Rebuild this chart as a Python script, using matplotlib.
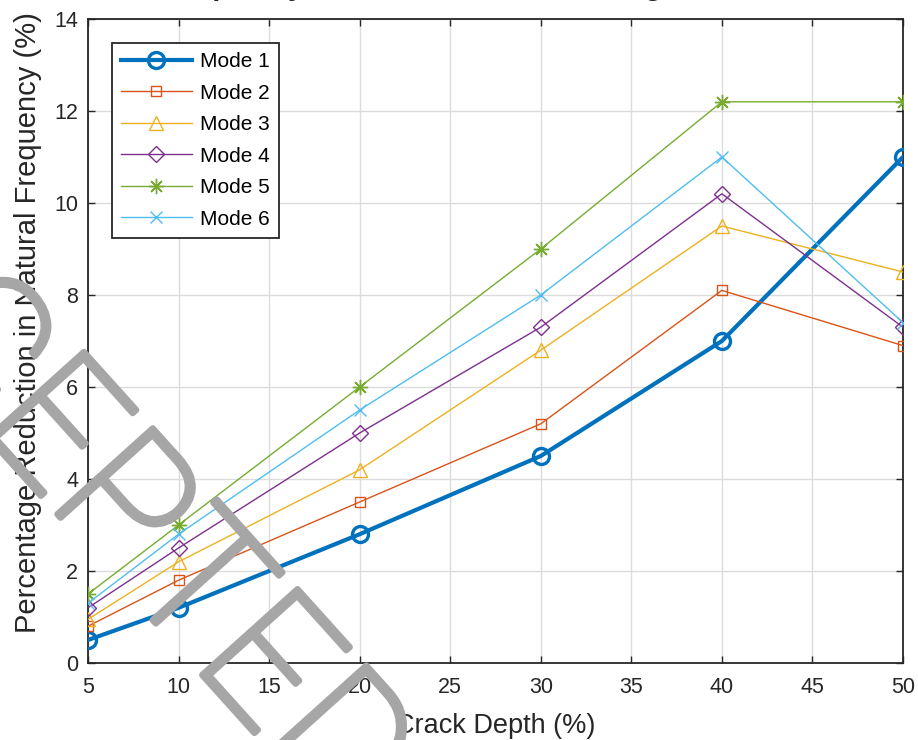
import matplotlib
matplotlib.use("Agg")
import matplotlib.pyplot as plt
import matplotlib.patheffects as pe

# -------- DATA ------------------------------------------------------
crack_depth = [5, 10, 20, 30, 40, 50]
mode1 = [0.5, 1.2, 2.8, 4.5, 7.0, 11.0]
mode2 = [0.8, 1.8, 3.5, 5.2, 8.1, 6.9]
mode3 = [0.95, 2.2, 4.2, 6.8, 9.5, 8.5]
mode4 = [1.2, 2.5, 5.0, 7.3, 10.2, 7.3]
mode5 = [1.5, 3.0, 6.0, 9.0, 12.2, 12.2]
mode6 = [1.3, 2.8, 5.5, 8.0, 11.0, 7.4]
mode_names = ["Mode 1", "Mode 2", "Mode 3", "Mode 4", "Mode 5", "Mode 6"]
x_ticks = [5, 10, 15, 20, 25, 30, 35, 40, 45, 50]
y_ticks = [0, 2, 4, 6, 8, 10, 12, 14]
# --------------------------------------------------------------------

W, H = 918, 740

plt.rcParams["font.family"] = ["Liberation Sans", "DejaVu Sans"]

fig = plt.figure(figsize=(W / 100, H / 100), dpi=100)
ax = fig.add_axes([88 / W, 1 - 663 / H, (903 - 88) / W, (663 - 19) / H])

styles = [
    dict(color="#0072BD", marker="o", lw=3.0, ms=11.5, mew=2.4),
    dict(color="#D95319", marker="s", lw=1.0, ms=7.5, mew=1.0),
    dict(color="#EDB120", marker="^", lw=1.0, ms=10, mew=1.0),
    dict(color="#7E2F8E", marker="D", lw=1.0, ms=8, mew=1.0),
    dict(color="#77AC30", marker=(8, 2, 0), lw=1.0, ms=11, mew=1.0),
    dict(color="#4DBEEE", marker="x", lw=1.0, ms=8, mew=1.0),
]
series = [mode1, mode2, mode3, mode4, mode5, mode6]

for name, vals, st in zip(mode_names, series, styles):
    ax.plot(crack_depth, vals, color=st["color"], marker=st["marker"],
            linewidth=st["lw"], markersize=st["ms"], markeredgewidth=st["mew"],
            markerfacecolor="none", label=name, zorder=3)

ax.set_xlim(5, 50)
ax.set_ylim(0, 14)
ax.set_xticks(x_ticks)
ax.set_yticks(y_ticks)
ax.grid(True, color="#dcdcdc", linewidth=1.0)
ax.set_axisbelow(True)
ax.tick_params(direction="in", length=5, width=1.0, top=True, right=True,
               labelsize=15.5, colors="#262626", pad=7)
ax.tick_params(axis="x", pad=10)
for sp in ax.spines.values():
    sp.set_color("#262626")
    sp.set_linewidth(1.3)

ax.set_xlabel("Crack Depth (%)", fontsize=19.5, color="#262626", labelpad=11)
ax.set_ylabel("Percentage Reduction in Natural Frequency (%)", fontsize=21,
              color="#262626")
ax.yaxis.set_label_coords(-0.056, 0.528)

leg = ax.legend(loc="upper left", bbox_to_anchor=(0.029, 0.963), borderaxespad=0,
                fontsize=15, frameon=True, fancybox=False, framealpha=1,
                edgecolor="#262626", handlelength=3.4, labelspacing=0.6,
                handletextpad=0.4, borderpad=0.45)
leg.get_frame().set_linewidth(1.3)

# title, mostly cut off by the top edge of the picture
fig.text(157 / W, 1 + 4.5 / H, "Frequency Reduction vs Crack Length",
         fontsize=21, fontweight="bold", color="#262626",
         ha="left", va="baseline")

# journal watermark
fig.text(80 / W, 1 - 465 / H, "ACCEPTED", fontsize=130, family="Roboto",
         fontweight=100, color="#a6a6a6", rotation=-48, rotation_mode="anchor",
         ha="center", va="center", zorder=10,
         path_effects=[pe.Stroke(linewidth=4.5, foreground="#a6a6a6"), pe.Normal()])

fig.savefig("out.png", dpi=100)
